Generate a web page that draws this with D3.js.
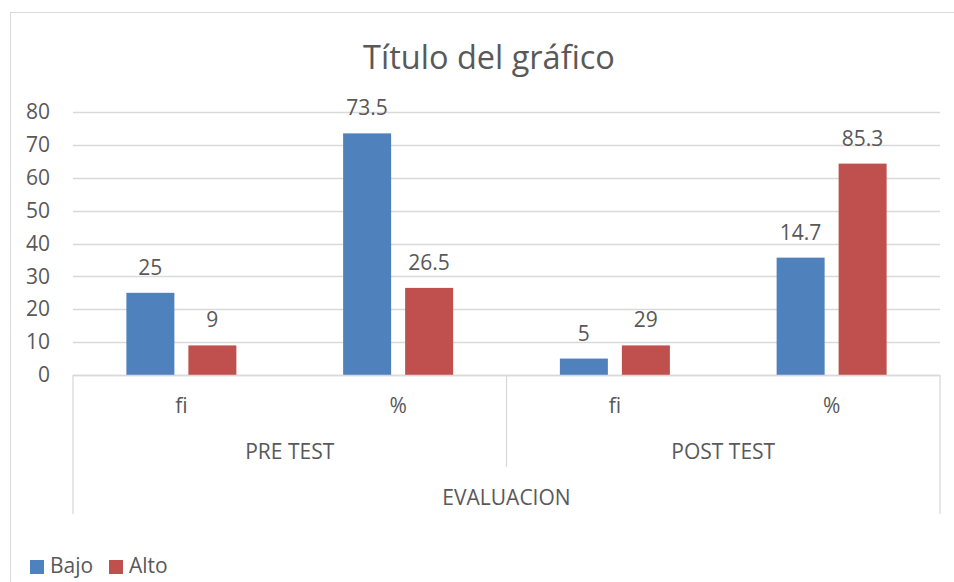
<!DOCTYPE html>
<html>
<head>
<meta charset="utf-8">
<script src="https://cdn.jsdelivr.net/npm/d3@7"></script>
<style>
	body { margin: 0; background: #fff; }
	text { font-family: "Open Sans", sans-serif; fill: #595959; }
</style>
</head>
<body>
<script>
(function(){

//chart data
var groups = ["PRE TEST", "POST TEST"];
var subcats = ["fi", "%"];
var series = ["Bajo", "Alto"];
var bajoValues = [25, 73.5, 5, 35.7];
var altoValues = [9, 26.5, 9, 64.3];
//data labels as printed on the chart
var bajoLabels = ["25", "73.5", "5", "14.7"];
var altoLabels = ["9", "26.5", "29", "85.3"];
var yTicks = [0, 10, 20, 30, 40, 50, 60, 70, 80];
var axisTitle = "EVALUACION";
var chartTitle = "Título del gráfico";

var colors = {Bajo: "#4F81BD", Alto: "#C0504D"};

var width = 954,
	height = 582,
	plotLeft = 73,
	plotRight = 940,
	plotTop = 112,
	plotBottom = 375,
	fontSize = 21;

var svg = d3.select("body")
	.append("svg")
	.attr("width", width)
	.attr("height", height);

//chart frame
svg.append("rect")
	.attr("x", 10.5)
	.attr("y", 12.5)
	.attr("width", 1000)
	.attr("height", 700)
	.attr("fill", "none")
	.attr("stroke", "#D9D9D9");

//build category list: one per group/subcategory pair
var cats = [];
groups.forEach(function(g){
	subcats.forEach(function(s){
		cats.push(g + "|" + s);
	});
});

var rows = cats.map(function(c, i){
	return {cat: c, sub: c.split("|")[1], Bajo: bajoValues[i], Alto: altoValues[i],
		labels: {Bajo: bajoLabels[i], Alto: altoLabels[i]}};
});

var pad = 0.4925;
var x0 = d3.scaleBand()
	.domain(cats)
	.range([plotLeft, plotRight])
	.paddingInner(pad)
	.paddingOuter(pad / 2);

var x1 = d3.scaleBand()
	.domain(series)
	.range([0, x0.bandwidth()])
	.paddingInner(0.2258);

var y = d3.scaleLinear()
	.domain([0, 80])
	.range([plotBottom, plotTop]);

//gridlines
svg.append("g")
	.selectAll("line")
	.data(yTicks)
	.enter()
	.append("line")
	.attr("x1", plotLeft)
	.attr("x2", plotRight)
	.attr("y1", function(d){ return Math.round(y(d)) + 0.5; })
	.attr("y2", function(d){ return Math.round(y(d)) + 0.5; })
	.attr("stroke", "#D9D9D9")
	.attr("stroke-width", 1.3);

//y axis labels
var yAxis = d3.axisLeft(y)
	.tickValues(yTicks)
	.tickSize(0)
	.tickPadding(0);

var ya = svg.append("g")
	.attr("transform", "translate(50,0)")
	.call(yAxis);
ya.select(".domain").remove();
ya.selectAll("text")
	.attr("font-size", fontSize)
	.attr("font-family", "Open Sans")
	.attr("fill", "#595959");

//bars
var catG = svg.selectAll(".cat")
	.data(rows)
	.enter()
	.append("g")
	.attr("class", "cat")
	.attr("transform", function(d){ return "translate(" + x0(d.cat) + ",0)"; });

catG.selectAll("rect")
	.data(function(d){ return series.map(function(s){ return {key: s, value: d[s], label: d.labels[s]}; }); })
	.enter()
	.append("rect")
	.attr("x", function(d){ return x1(d.key); })
	.attr("width", x1.bandwidth())
	.attr("y", function(d){ return y(d.value); })
	.attr("height", function(d){ return y(0) - y(d.value); })
	.attr("fill", function(d){ return colors[d.key]; });

//data labels
catG.selectAll(".lbl")
	.data(function(d){ return series.map(function(s){ return {key: s, value: d[s], label: d.labels[s]}; }); })
	.enter()
	.append("text")
	.attr("class", "lbl")
	.attr("x", function(d){ return x1(d.key) + x1.bandwidth() / 2; })
	.attr("y", function(d){ return y(d.value) - 18; })
	.attr("text-anchor", "middle")
	.attr("font-size", fontSize)
	.text(function(d){ return d.label; });

//category axis line and separators
var axisG = svg.append("g")
	.attr("stroke", "#D9D9D9")
	.attr("stroke-width", 1.3);

axisG.append("line")
	.attr("x1", plotLeft).attr("x2", plotRight)
	.attr("y1", plotBottom + 0.5).attr("y2", plotBottom + 0.5);

var groupEdges = groups.map(function(g){ return x0(g + "|" + subcats[0]) - x0.step() * pad / 2; });
groupEdges.push(plotRight);

axisG.selectAll(".sep")
	.data(groupEdges)
	.enter()
	.append("line")
	.attr("x1", function(d){ return d; })
	.attr("x2", function(d){ return d; })
	.attr("y1", plotBottom)
	.attr("y2", function(d, i){ return (i == 0 || i == groupEdges.length - 1) ? 514 : 467; });

//subcategory labels
svg.selectAll(".sub")
	.data(rows)
	.enter()
	.append("text")
	.attr("x", function(d){ return x0(d.cat) + x0.bandwidth() / 2; })
	.attr("y", 413)
	.attr("text-anchor", "middle")
	.attr("font-size", fontSize)
	.text(function(d){ return d.sub; });

//group labels
svg.selectAll(".grp")
	.data(groups)
	.enter()
	.append("text")
	.attr("x", function(d, i){ return (groupEdges[i] + groupEdges[i + 1]) / 2; })
	.attr("y", 459)
	.attr("text-anchor", "middle")
	.attr("font-size", fontSize)
	.text(function(d){ return d; });

//axis title
svg.append("text")
	.attr("x", (plotLeft + plotRight) / 2)
	.attr("y", 505)
	.attr("text-anchor", "middle")
	.attr("font-size", fontSize)
	.text(axisTitle);

//chart title
svg.append("text")
	.attr("x", 489)
	.attr("y", 69)
	.attr("text-anchor", "middle")
	.attr("font-size", 32.5)
	.text(chartTitle);

//legend
var legend = svg.selectAll(".legend")
	.data(series)
	.enter()
	.append("g")
	.attr("transform", function(d, i){ return "translate(" + (30 + i * 79) + ",560)"; });

legend.append("rect")
	.attr("width", 14)
	.attr("height", 14)
	.attr("fill", function(d){ return colors[d]; });

legend.append("text")
	.attr("x", 20)
	.attr("y", 13)
	.attr("font-size", fontSize)
	.text(function(d){ return d; });

})();
</script>
</body>
</html>
